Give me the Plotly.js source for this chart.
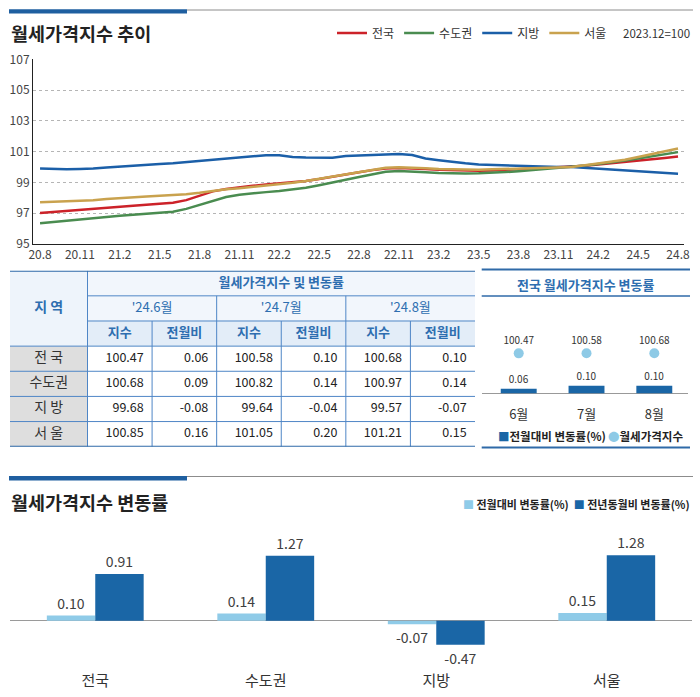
<!DOCTYPE html>
<html><head><meta charset="utf-8">
<script src="https://cdn.plot.ly/plotly-3.0.1.min.js"></script>
<style>html,body{margin:0;padding:0;background:#fff}#chart{width:700px;height:697px}</style>
</head><body><div id="chart"></div>
<script>
// ---------- data ----------
const months = ['20.8','20.9','20.10','20.11','20.12','21.1','21.2','21.3','21.4','21.5','21.6','21.7','21.8','21.9','21.10','21.11','21.12','22.1','22.2','22.3','22.4','22.5','22.6','22.7','22.8','22.9','22.10','22.11','22.12','23.1','23.2','23.3','23.4','23.5','23.6','23.7','23.8','23.9','23.10','23.11','23.12','24.1','24.2','24.3','24.4','24.5','24.6','24.7','24.8'];
const tickLabels = ['20.8','20.11','21.2','21.5','21.8','21.11','22.2','22.5','22.8','22.11','23.2','23.5','23.8','23.11','24.2','24.5','24.8'];
const yTicks = [95,97,99,101,103,105,107];
const seriesNames = ['전국','수도권','지방','서울'];
const national = [97.02,97.08,97.14,97.20,97.27,97.34,97.41,97.48,97.55,97.62,
  97.68,97.85,98.12,98.42,98.58,98.70,98.78,98.86,98.93,99.00,
  99.10,99.22,99.38,99.52,99.66,99.80,99.90,99.93,99.92,99.87,
  99.83,99.80,99.78,99.76,99.78,99.82,99.87,99.90,99.94,99.97,
  100.00,100.08,100.16,100.24,100.32,100.41,100.47,100.58,100.68];
const capital = [96.35,96.44,96.53,96.60,96.68,96.75,96.83,96.90,96.96,97.03,
  97.10,97.28,97.55,97.80,98.05,98.20,98.30,98.37,98.44,98.53,
  98.66,98.82,98.98,99.17,99.35,99.53,99.70,99.74,99.72,99.66,
  99.62,99.59,99.58,99.59,99.62,99.67,99.73,99.80,99.87,99.94,
  100.00,100.10,100.20,100.30,100.42,100.55,100.68,100.82,100.97];
const provincial = [99.90,99.87,99.86,99.88,99.90,99.97,100.04,100.10,100.16,100.20,
  100.25,100.32,100.40,100.47,100.53,100.60,100.70,100.77,100.76,100.66,
  100.62,100.60,100.60,100.72,100.74,100.76,100.80,100.84,100.78,100.55,
  100.44,100.33,100.24,100.17,100.14,100.12,100.05,100.03,100.01,100.00,
  100.00,99.95,99.90,99.84,99.80,99.74,99.68,99.64,99.57];
const seoul = [97.71,97.74,97.77,97.80,97.85,97.93,98.00,98.05,98.09,98.13,
  98.18,98.24,98.33,98.45,98.55,98.62,98.70,98.80,98.88,98.98,
  99.10,99.24,99.40,99.55,99.70,99.84,99.95,99.99,99.97,99.92,
  99.88,99.86,99.84,99.83,99.85,99.88,99.91,99.94,99.96,99.98,
  100.00,100.12,100.25,100.35,100.47,100.65,100.85,101.05,101.21];

const tableRegions = ['전 국','수도권','지 방','서 울'];
const tableMonths = ["'24.6월","'24.7월","'24.8월"];
const tableSubHeads = ['지수','전월비'];
const idxJun = [100.47,100.68,99.68,100.85];
const chgJun = [0.06,0.09,-0.08,0.16];
const idxJul = [100.58,100.82,99.64,101.05];
const chgJul = [0.10,0.14,-0.04,0.20];
const idxAug = [100.68,100.97,99.57,101.21];
const chgAug = [0.10,0.14,-0.07,0.15];

const panelMonths = ['6월','7월','8월'];
const panelChange = [0.06,0.10,0.10];
const panelIndex = [100.47,100.58,100.68];

const regions = ['전국','수도권','지방','서울'];
const momChange = [0.10,0.14,-0.07,0.15];
const yoyChange = [0.91,1.27,-0.47,1.28];

// ---------- layout helpers ----------
const W = 700, H = 697;
const fx = p => p / W;
const fy = p => 1 - p / H;
const FONT = 'Noto Sans CJK KR, Noto Sans, sans-serif';
const BLUE_TXT = '#2e6eb0';
const lineColors = ['#cc2229','#4a8c50','#1b5fa8','#c9a24e'];
const lineSeries = [national, capital, provincial, seoul];

const traces = [];
lineSeries.forEach((s, i) => {
  traces.push({type:'scatter', mode:'lines', name:seriesNames[i], x:months, y:s,
    xaxis:'x', yaxis:'y', line:{color:lineColors[i], width:2.5}, showlegend:true});
});

// ---- table (axis x2/y2 : columns 0..7.2, rows 0..7) ----
const REGW = 1.2;
const tblMonthsData = [[idxJun,chgJun],[idxJul,chgJul],[idxAug,chgAug]];
traces.push({type:'scatter', mode:'text', x:[REGW+3], y:[0.5], text:['월세가격지수 및 변동률'],
  xaxis:'x2', yaxis:'y2', textfont:{size:13, color:BLUE_TXT, family:FONT, weight:'bold'}, showlegend:false, cliponaxis:false});
traces.push({type:'scatter', mode:'text', x:[REGW/2], y:[1.5], text:['지 역'],
  xaxis:'x2', yaxis:'y2', textfont:{size:14, color:BLUE_TXT, family:FONT, weight:'bold'}, showlegend:false, cliponaxis:false});
traces.push({type:'scatter', mode:'text', x:tableMonths.map((m,i)=>REGW+1+2*i), y:tableMonths.map(()=>1.5), text:tableMonths,
  xaxis:'x2', yaxis:'y2', textfont:{size:13, color:BLUE_TXT, family:FONT}, showlegend:false, cliponaxis:false});
const shX = [], shT = [];
tableMonths.forEach((m,i)=>{ tableSubHeads.forEach((h,j)=>{ shX.push(REGW+2*i+j+0.5); shT.push(h); }); });
traces.push({type:'scatter', mode:'text', x:shX, y:shX.map(()=>2.5), text:shT,
  xaxis:'x2', yaxis:'y2', textfont:{size:13, color:BLUE_TXT, family:FONT, weight:'bold'}, showlegend:false, cliponaxis:false});
traces.push({type:'scatter', mode:'text', x:tableRegions.map(()=>REGW/2), y:tableRegions.map((r,i)=>3.5+i), text:tableRegions,
  xaxis:'x2', yaxis:'y2', textfont:{size:14, color:'#333', family:FONT}, showlegend:false, cliponaxis:false});
tblMonthsData.forEach((pair, m) => {
  pair.forEach((vals, j) => {
    traces.push({type:'scatter', mode:'text', textposition:'middle left',
      x:vals.map(()=>REGW+2*m+j+1-0.13), y:vals.map((v,i)=>3.5+i), text:vals.map(v=>v.toFixed(2)),
      xaxis:'x2', yaxis:'y2', textfont:{size:12.5, color:'#222', family:FONT}, showlegend:false, cliponaxis:false});
  });
});

// ---- small panel chart ----
traces.push({type:'bar', x:panelMonths, y:panelChange, xaxis:'x3', yaxis:'y3', width:0.53,
  marker:{color:'#1a66a6'}, texttemplate:'%{y:.2f}', textposition:'outside', constraintext:'none',
  textfont:{size:10, color:'#333', family:FONT}, cliponaxis:false, showlegend:false});
traces.push({type:'scatter', mode:'markers+text', x:panelMonths, y:panelIndex, xaxis:'x3', yaxis:'y4',
  marker:{size:10, color:'#8ecae6'}, texttemplate:'%{y:.2f}', textposition:'top center',
  textfont:{size:10, color:'#333', family:FONT}, cliponaxis:false, showlegend:false});

// ---- bottom chart ----
traces.push({type:'bar', x:regions, y:momChange, xaxis:'x4', yaxis:'y5', width:0.284, offset:-0.284,
  marker:{color:'#8fcbe8'}, texttemplate:'%{y:.2f}', textposition:'outside', constraintext:'none',
  textfont:{size:14, color:'#404040', family:FONT}, cliponaxis:false, showlegend:false});
traces.push({type:'bar', x:regions, y:yoyChange, xaxis:'x4', yaxis:'y5', width:0.284, offset:0,
  marker:{color:'#1a66a6'}, texttemplate:'%{y:.2f}', textposition:'outside', constraintext:'none',
  textfont:{size:14, color:'#404040', family:FONT}, cliponaxis:false, showlegend:false});

// ---------- shapes ----------
const shapes = [];
function pline(x0,y0,x1,y1,c,w){ shapes.push({type:'line',xref:'paper',yref:'paper',x0:fx(x0),x1:fx(x1),y0:fy(y0),y1:fy(y1),line:{color:c,width:w}}); }
function prect(x0,y0,x1,y1,c){ shapes.push({type:'rect',xref:'paper',yref:'paper',x0:fx(x0),x1:fx(x1),y0:fy(y0),y1:fy(y1),fillcolor:c,line:{width:0}}); }
// section decorations
pline(187,10,693,10,'#8c8c8c',1);
prect(9,9.3,187,13.5,'#1f5fa0');
pline(187,476.5,693,476.5,'#8c8c8c',1);
prect(9,476,187,480.5,'#1f5fa0');
// panel lines
pline(481.7,269.5,690,269.5,'#2f6aa8',2);
pline(481.7,296,690,296,'#2f6aa8',1.5);
pline(481.7,447.5,690,447.5,'#2f6aa8',2);
// table fills
function trect(x0,y0,x1,y1,c){ shapes.push({type:'rect',xref:'x2',yref:'y2',x0,x1,y0,y1,fillcolor:c,line:{width:0},layer:'below'}); }
function tline(x0,y0,x1,y1,c,w){ shapes.push({type:'line',xref:'x2',yref:'y2',x0,x1,y0,y1,line:{color:c,width:w}}); }
const TOT = REGW + 6;
trect(0,0,REGW,3,'#eef4fb');
trect(REGW,0,TOT,2,'#f2f6fc');
trect(REGW,2,TOT,3,'#e3edf8');
trect(0,3,REGW,7,'#dedede');
const TL = '#4f86c6';
tline(REGW,1,TOT,1,TL,1);
tline(REGW,2,TOT,2,TL,1);
[3,4,5,6].forEach(r=>tline(0,r,TOT,r,TL,1));
tline(REGW,0,REGW,7,TL,1);
[0,1,2].forEach(m=>{ if(m>0) tline(REGW+2*m,1,REGW+2*m,7,TL,1); tline(REGW+2*m+1,2,REGW+2*m+1,7,TL,1); });
tline(0,0,TOT,0,'#2f6aa8',2);
tline(0,7,TOT,7,'#2f6aa8',2);

// ---------- annotations ----------
const annotations = [
  {xref:'paper',yref:'paper',x:fx(9),y:fy(33),xanchor:'left',yanchor:'middle',showarrow:false,
   text:'<b>월세가격지수 추이</b>',font:{size:18.5,color:'#222',family:FONT}},
  {xref:'paper',yref:'paper',x:fx(692),y:fy(33),xanchor:'right',yanchor:'middle',showarrow:false,
   text:'2023.12=100',font:{size:11.5,color:'#333',family:FONT}},
  {xref:'paper',yref:'paper',x:fx(586),y:fy(284),xanchor:'center',yanchor:'middle',showarrow:false,
   text:'<b>전국 월세가격지수 변동률</b>',font:{size:13,color:BLUE_TXT,family:FONT}},
  {xref:'paper',yref:'paper',x:fx(496),y:fy(436),xanchor:'left',yanchor:'middle',showarrow:false,
   text:'<b><span style="color:#1a66a6">■</span>전월대비 변동률(%)</b>',font:{size:11.5,color:'#222',family:FONT}},
  {xref:'paper',yref:'paper',x:fx(606),y:fy(436),xanchor:'left',yanchor:'middle',showarrow:false,
   text:'<b><span style="color:#8ecae6">●</span>월세가격지수</b>',font:{size:11.5,color:'#222',family:FONT}},
  {xref:'paper',yref:'paper',x:fx(9),y:fy(502),xanchor:'left',yanchor:'middle',showarrow:false,
   text:'<b>월세가격지수 변동률</b>',font:{size:18.5,color:'#222',family:FONT}},
  {xref:'paper',yref:'paper',x:fx(692),y:fy(504),xanchor:'right',yanchor:'middle',showarrow:false,
   text:'<b><span style="color:#8fcbe8">■</span> 전월대비 변동률(%)  <span style="color:#1a66a6">■</span> 전년동월비 변동률(%)</b>',
   font:{size:11,color:'#222',family:FONT}}
];

const layout = {
  width:W, height:H, margin:{l:0,r:0,t:0,b:0}, paper_bgcolor:'#fff', plot_bgcolor:'rgba(0,0,0,0)',
  font:{family:FONT, color:'#333'}, hovermode:false, barmode:'overlay',
  showlegend:true,
  legend:{orientation:'h', x:fx(332), xanchor:'left', y:fy(33), yanchor:'middle',
    font:{size:12,color:'#333',family:FONT}, bgcolor:'rgba(0,0,0,0)', itemwidth:30, traceorder:'normal'},
  xaxis:{domain:[fx(33),fx(684)], anchor:'y', type:'category', range:[-0.53,48.45],
    tickvals:tickLabels, ticktext:tickLabels, showline:true, linecolor:'#222', linewidth:1,
    showgrid:false, ticks:'', tickfont:{size:12,color:'#444'}, fixedrange:true},
  yaxis:{domain:[fy(244),fy(59.3)], anchor:'x', range:[95,107], tickvals:yTicks,
    showline:true, linecolor:'#222', linewidth:1, showgrid:true, gridcolor:'#b5b5b5', griddash:'dot', gridwidth:1,
    zeroline:false, ticks:'', tickfont:{size:12,color:'#444'}, fixedrange:true},
  xaxis2:{domain:[fx(10),fx(475)], anchor:'y2', range:[0,REGW+6], visible:false},
  yaxis2:{domain:[fy(446.7),fy(270.7)], anchor:'x2', range:[7,0], visible:false},
  xaxis3:{domain:[fx(481.7),fx(688)], anchor:'y3', type:'category', range:[-0.546,2.497],
    showline:false, showgrid:false, zeroline:false, ticks:'', tickfont:{size:13,color:'#333'}},
  yaxis3:{domain:[fy(405),fy(330)], anchor:'x3', range:[-0.154,0.833], showticklabels:false,
    showgrid:false, zeroline:true, zerolinecolor:'#999', zerolinewidth:1, showline:false, ticks:''},
  yaxis4:{overlaying:'y3', anchor:'x3', range:[0,145.9], visible:false},
  xaxis4:{domain:[fx(10),fx(692)], anchor:'y5', type:'category', range:[-0.5,3.5],
    showline:false, showgrid:false, zeroline:false, ticks:'', tickfont:{size:15,color:'#333'}},
  yaxis5:{domain:[fy(670),fy(530)], anchor:'x4', range:[-0.963,1.771], showticklabels:false,
    showgrid:false, zeroline:true, zerolinecolor:'#9a9a9a', zerolinewidth:1, showline:false, ticks:''},
  shapes:shapes, annotations:annotations
};

Plotly.newPlot('chart', traces, layout, {staticPlot:true, displayModeBar:false});
</script>
</body></html>
